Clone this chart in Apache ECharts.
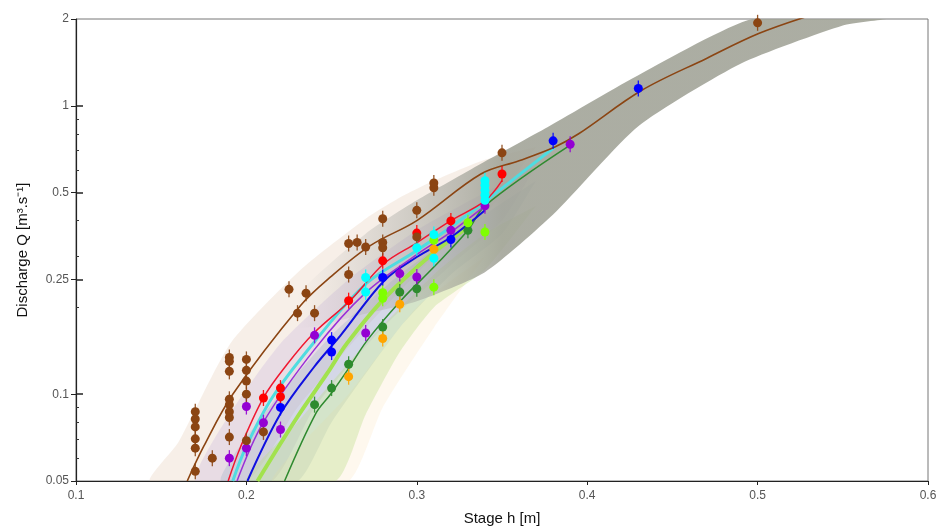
<!DOCTYPE html>
<html>
<head>
<meta charset="utf-8">
<script src="https://cdn.jsdelivr.net/npm/echarts@6/dist/echarts.min.js"></script>
<style>
html, body { margin: 0; padding: 0; background: #fff; }
#chart { width: 937px; height: 526px; }
</style>
</head>
<body>
<div id="chart"></div>
<script>
var myChart = echarts.init(document.getElementById('chart'));

// axis ticks
var xTicks = [0.1, 0.2, 0.3, 0.4, 0.5, 0.6];
var yMajor = [0.05, 0.1, 0.25, 0.5, 1, 2];
var yMinor = [0.06, 0.07, 0.08, 0.09, 0.2, 0.3, 0.4, 0.6, 0.7, 0.8, 0.9];

// gaugings [h, Q]
var brownPts = [
    [0.17, 0.087], [0.17, 0.082], [0.17, 0.077], [0.17, 0.070], [0.17, 0.065], [0.17, 0.054],
    [0.18, 0.060],
    [0.19, 0.134], [0.19, 0.130], [0.19, 0.120], [0.19, 0.096], [0.19, 0.092], [0.19, 0.087], [0.19, 0.083], [0.19, 0.071],
    [0.20, 0.132], [0.20, 0.121], [0.20, 0.111], [0.20, 0.100], [0.20, 0.069],
    [0.21, 0.074],
    [0.225, 0.231], [0.235, 0.224], [0.23, 0.191], [0.24, 0.191],
    [0.26, 0.333], [0.265, 0.336], [0.27, 0.324], [0.26, 0.26],
    [0.28, 0.406], [0.28, 0.336], [0.28, 0.322],
    [0.30, 0.434], [0.30, 0.351],
    [0.31, 0.52], [0.31, 0.54],
    [0.35, 0.687],
    [0.50, 1.94]
];
var redPts = [[0.21, 0.097], [0.22, 0.105], [0.22, 0.098], [0.26, 0.211], [0.28, 0.29], [0.30, 0.362], [0.32, 0.399], [0.35, 0.58]];
var cyanPts = [[0.27, 0.254], [0.27, 0.226], [0.30, 0.322], [0.31, 0.358], [0.31, 0.296],
    [0.34, 0.47], [0.34, 0.49], [0.34, 0.51], [0.34, 0.53], [0.34, 0.55]];
var purplePts = [[0.19, 0.060], [0.20, 0.0906], [0.20, 0.065], [0.21, 0.0796], [0.22, 0.0754], [0.24, 0.160],
    [0.27, 0.163], [0.29, 0.262], [0.30, 0.255], [0.32, 0.37], [0.34, 0.45], [0.39, 0.736]];
var bluePts = [[0.22, 0.090], [0.25, 0.154], [0.25, 0.140], [0.28, 0.254], [0.32, 0.344], [0.38, 0.756], [0.43, 1.149]];
var limePts = [[0.28, 0.225], [0.28, 0.215], [0.31, 0.235], [0.31, 0.342], [0.33, 0.393], [0.34, 0.365]];
var orangePts = [[0.26, 0.115], [0.28, 0.156], [0.29, 0.205], [0.31, 0.318]];
var greenPts = [[0.24, 0.092], [0.25, 0.105], [0.26, 0.127], [0.28, 0.171], [0.29, 0.226], [0.30, 0.232], [0.33, 0.370]];

// rating curves [h, Q]
var brownCurve = [[0.1653, 0.05], [0.175, 0.066], [0.192, 0.1], [0.2318, 0.203], [0.2494, 0.255], [0.2729, 0.328],
    [0.30, 0.40], [0.3376, 0.58], [0.36, 0.645], [0.381, 0.72], [0.395, 0.80], [0.4318, 1.13], [0.47, 1.46],
    [0.5006, 1.78], [0.53, 2.05]];
var redCurve = [[0.1893, 0.05], [0.1965, 0.0655], [0.2102, 0.0977], [0.2239, 0.127], [0.2396, 0.163], [0.2608, 0.211],
    [0.2808, 0.284], [0.30, 0.335], [0.32, 0.40], [0.34, 0.468], [0.35, 0.55]];
var cyanCurve = [[0.192, 0.05], [0.20, 0.066], [0.215, 0.097], [0.24, 0.152], [0.2704, 0.242], [0.30, 0.315],
    [0.32, 0.38], [0.34, 0.466], [0.381, 0.72]];
var purpleCurve = [[0.1945, 0.05], [0.21, 0.08], [0.24, 0.143], [0.27, 0.225], [0.30, 0.305], [0.32, 0.365], [0.34, 0.45]];
var blueCurve = [[0.2006, 0.05], [0.22, 0.0855], [0.2396, 0.124], [0.2553, 0.16], [0.281, 0.248], [0.30, 0.299],
    [0.32, 0.35], [0.34, 0.434]];
var limeCurve = [[0.2065, 0.05], [0.2298, 0.0832], [0.2474, 0.118], [0.259, 0.15], [0.281, 0.215], [0.31, 0.31], [0.33, 0.38]];
var greenCurve = [[0.2224, 0.05], [0.2406, 0.0855], [0.2494, 0.100], [0.2592, 0.121], [0.271, 0.154], [0.2906, 0.211],
    [0.31, 0.276], [0.33, 0.37], [0.34, 0.45], [0.39, 0.73]];

// uncertainty bands, upper and lower edges [h, Q]
var peachUp = [[0.1435, 0.05], [0.16, 0.068], [0.1906, 0.15], [0.2318, 0.27], [0.271, 0.41], [0.2906, 0.483], [0.31, 0.55], [0.34, 0.65], [0.37, 0.72]];
var peachLo = [[0.20, 0.05], [0.23, 0.09], [0.27, 0.17], [0.31, 0.30], [0.34, 0.42], [0.37, 0.72]];
var lilacUp = [[0.17, 0.05], [0.19, 0.085], [0.22, 0.15], [0.26, 0.25], [0.30, 0.37], [0.34, 0.50], [0.37, 0.62]];
var lilacLo = [[0.215, 0.05], [0.24, 0.09], [0.28, 0.17], [0.32, 0.28], [0.35, 0.40], [0.37, 0.62]];
var steelUp = [[0.185, 0.05], [0.21, 0.085], [0.25, 0.16], [0.29, 0.26], [0.34, 0.42], [0.37, 0.55]];
var steelLo = [[0.23, 0.05], [0.25, 0.08], [0.29, 0.17], [0.32, 0.26], [0.35, 0.36], [0.37, 0.55]];
var greenUp = [[0.20, 0.05], [0.23, 0.08], [0.27, 0.15], [0.31, 0.26], [0.34, 0.36], [0.37, 0.45]];
var greenLo = [[0.2525, 0.05], [0.27, 0.085], [0.29, 0.14], [0.31, 0.20], [0.34, 0.27], [0.37, 0.45]];
var orangeUp = [[0.215, 0.05], [0.26, 0.1], [0.30, 0.2], [0.34, 0.3]];
var orangeLo = [[0.26, 0.05], [0.28, 0.09], [0.31, 0.17], [0.34, 0.3]];
var greyUp = [[0.23, 0.22], [0.27, 0.36], [0.30, 0.47], [0.3376, 0.63], [0.3769, 0.845], [0.4318, 1.295], [0.4970, 2.0]];
var greyLo = [[0.23, 0.17], [0.27, 0.19], [0.30, 0.21], [0.34, 0.265], [0.38, 0.42], [0.43, 0.85], [0.49, 1.4], [0.55, 1.9], [0.575, 2.0]];

var font = 'Liberation Sans, Arial, sans-serif';

function band(upper, lower, fill, fade) {
    return {
        type: 'custom',
        silent: true,
        clip: true,
        z: 1,
        data: upper,
        encode: { x: 0, y: 1 },
        renderItem: function (params, api) {
            if (params.dataIndex !== 0) return null;
            var pts = upper.map(function (p) { return api.coord(p); })
                .concat(lower.slice().reverse().map(function (p) { return api.coord(p); }));
            var f = fill;
            if (fade) {
                var a = api.coord([fade[0], 1])[0];
                var b = api.coord([fade[1], 1])[0];
                f = new echarts.graphic.LinearGradient(a, 0, b, 0, [
                    { offset: 0, color: fade[2] },
                    { offset: 1, color: fill }
                ], true);
            }
            return { type: 'polygon', shape: { points: pts, smooth: 0.2 }, style: { fill: f } };
        }
    };
}

function curve(data, color, width) {
    return {
        type: 'line', data: data, smooth: 0.35, showSymbol: false, silent: true, z: 3,
        lineStyle: { color: color, width: width }
    };
}

function gaugings(data, color) {
    return [{
        type: 'scatter', data: data, symbol: 'rect', symbolSize: [1.3, 16], z: 4, silent: true,
        itemStyle: { color: color, opacity: 0.9 }
    }, {
        type: 'scatter', data: data, symbol: 'circle', symbolSize: 9, z: 5, silent: true,
        itemStyle: { color: color, opacity: 1 }
    }];
}

function yFmt(v) { return String(Math.round(v * 1000) / 1000); }

var option = {
    animation: false,
    backgroundColor: '#fff',
    grid: {
        left: 76, right: 9, top: 19, bottom: 45,
        outerBoundsMode: 'none',
        containLabel: false,
        show: true, borderColor: '#777', borderWidth: 1, backgroundColor: 'transparent'
    },
    xAxis: {
        type: 'value', min: 0.1, max: 0.6, interval: 0.1,
        name: 'Stage h [m]', nameLocation: 'middle', nameGap: 30,
        nameTextStyle: { fontFamily: font, fontSize: 15, color: '#111' },
        axisLine: { show: true, lineStyle: { color: '#222', width: 1.2 } },
        axisTick: { show: true, length: 4, lineStyle: { color: '#222' } },
        axisLabel: {
            color: '#555', fontSize: 12, fontFamily: font, margin: 9,
            formatter: function (v) { return v.toFixed(1); }
        },
        splitLine: { show: false }
    },
    yAxis: [{
        type: 'log', logBase: 10, min: 0.05, max: 2, position: 'left',
        name: 'Discharge Q [m³.s⁻¹]', nameLocation: 'middle', nameGap: 46, nameRotate: 90,
        nameTextStyle: { fontFamily: font, fontSize: 15, color: '#111' },
        axisLine: { show: true, lineStyle: { color: '#222', width: 1.2 } },
        axisTick: { show: true, customValues: yMajor, length: 5, lineStyle: { color: '#222' } },
        axisLabel: { customValues: yMajor, color: '#555', fontSize: 12, fontFamily: font, margin: 7, formatter: yFmt },
        splitLine: { show: false },
        minorTick: { show: false }
    }, {
        type: 'log', logBase: 10, min: 0.05, max: 2, position: 'left', offset: 0,
        axisLine: { show: false },
        axisTick: { show: true, inside: true, customValues: [0.1, 0.25, 0.5, 1], length: 7, lineStyle: { color: '#222', width: 1.5 } },
        axisLabel: { show: false },
        splitLine: { show: false }
    }, {
        type: 'log', logBase: 10, min: 0.05, max: 2, position: 'left', offset: 0,
        axisLine: { show: false },
        axisTick: { show: true, inside: true, customValues: yMinor, length: 3, lineStyle: { color: '#333' } },
        axisLabel: { show: false },
        splitLine: { show: false }
    }],
    series: [
        band(peachUp, peachLo, 'rgba(232,205,185,0.33)'),
        band(lilacUp, lilacLo, 'rgba(195,172,218,0.28)'),
        band(steelUp, steelLo, 'rgba(140,165,195,0.26)'),
        band(orangeUp, orangeLo, 'rgba(250,218,170,0.20)'),
        band(greenUp, greenLo, 'rgba(188,222,135,0.36)'),
        band(greyUp, greyLo, 'rgba(160,162,150,0.88)', [0.23, 0.35, 'rgba(175,175,175,0.0)']),
        curve(limeCurve, '#a2e24e', 4),
        curve(cyanCurve, '#4fdce0', 3),
        curve(greenCurve, '#2f8a2f', 1.5),
        curve(blueCurve, '#1010e0', 2),
        curve(purpleCurve, '#9a2fd8', 1.5),
        curve(redCurve, '#f01830', 1.5),
        curve(brownCurve, '#8B4513', 1.6)
    ]
        .concat(gaugings(greenPts, '#2e8b2e'))
        .concat(gaugings(orangePts, '#ffa500'))
        .concat(gaugings(limePts, '#7fff00'))
        .concat(gaugings(bluePts, '#0000ff'))
        .concat(gaugings(purplePts, '#9400d3'))
        .concat(gaugings(cyanPts, '#00ffff'))
        .concat(gaugings(redPts, '#ff0000'))
        .concat(gaugings(brownPts, '#8B4513'))
};

myChart.setOption(option);
</script>
</body>
</html>
